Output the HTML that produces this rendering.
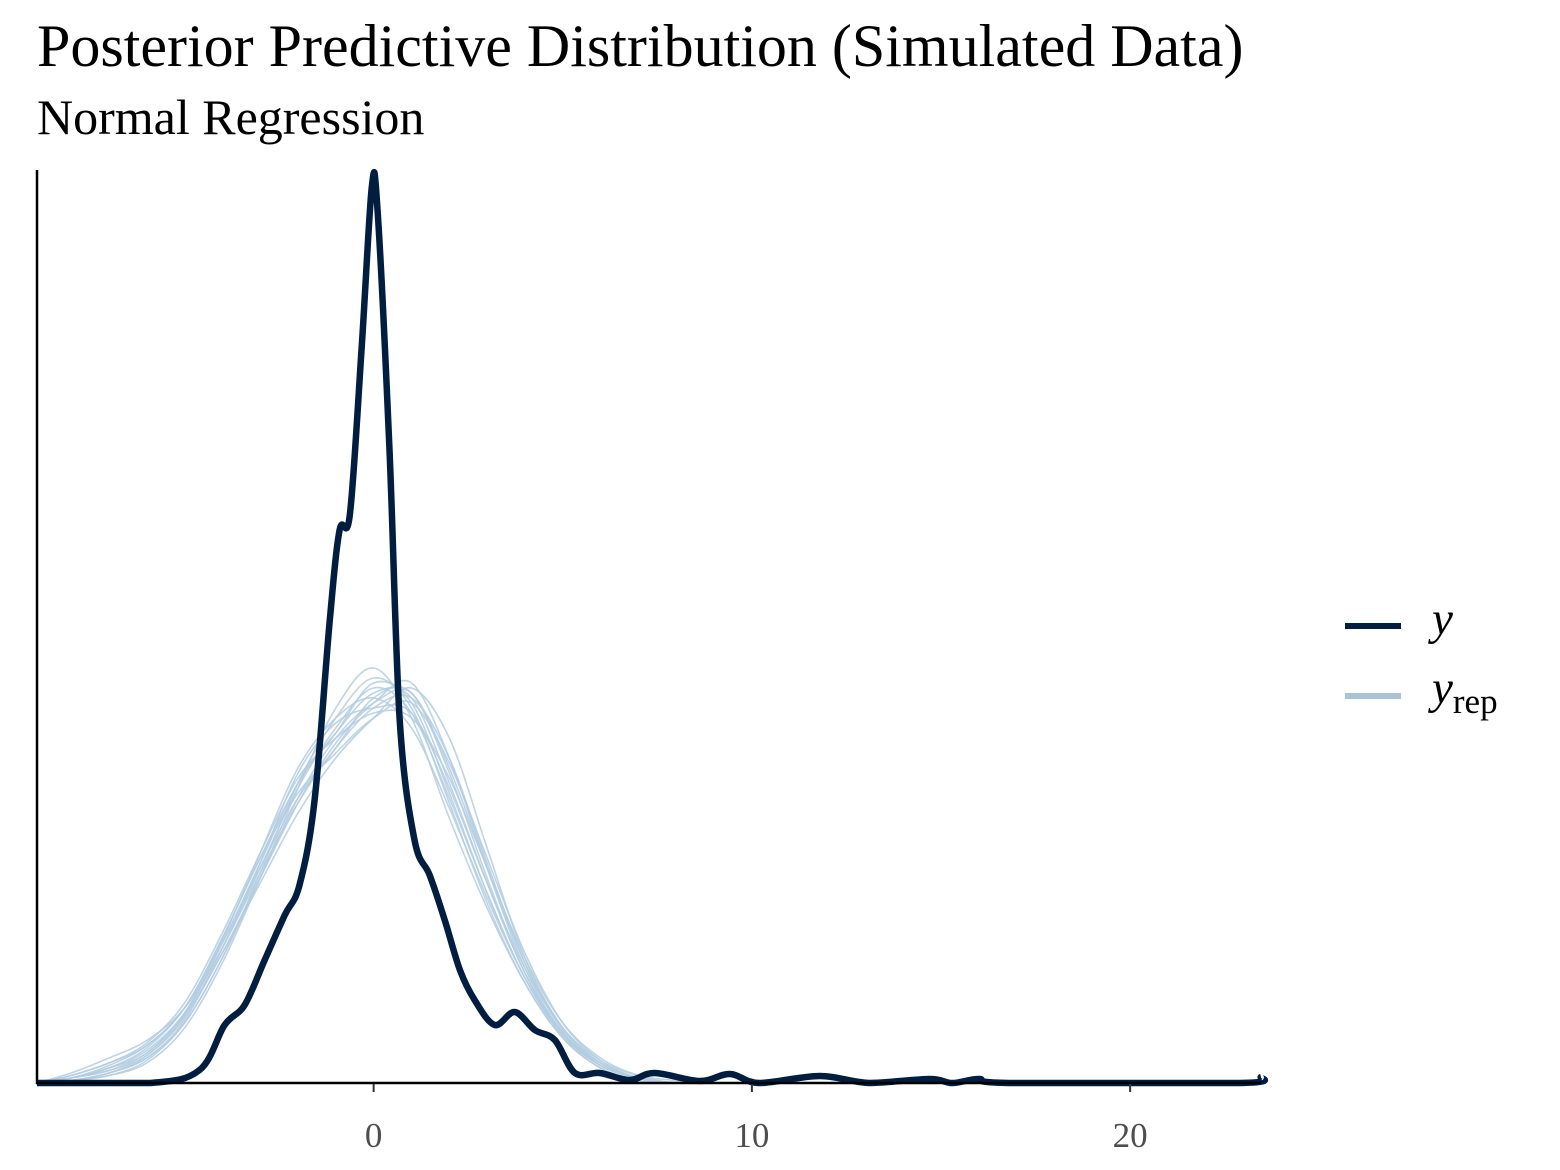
<!DOCTYPE html>
<html><head><meta charset="utf-8"><style>
html,body{margin:0;padding:0;background:#fff;}
svg{display:block;font-family:"Liberation Serif",serif;}
</style></head><body>
<svg id="chart" width="1560" height="1170" viewBox="0 0 1560 1170">
<text x="37" y="66" font-size="60" fill="#000">Posterior Predictive Distribution (Simulated Data)</text>
<text x="37" y="134" font-size="50" fill="#000">Normal Regression</text>
<g id="yrep-layer"></g>
<g id="y-layer"></g>
<line x1="37" y1="170" x2="37" y2="1084" stroke="#000" stroke-width="2.5"/>
<line x1="36" y1="1083" x2="1261" y2="1083" stroke="#000" stroke-width="2.5"/>
<g id="ticks"></g>
<g>
<line x1="1345" y1="626" x2="1401" y2="626" stroke="#011e41" stroke-width="6"/>
<text x="1432" y="634" font-size="47" font-style="italic">y</text>
<line x1="1345" y1="696" x2="1401" y2="696" stroke="#a9c2d8" stroke-width="6"/>
<text x="1432" y="703" font-size="47" font-style="italic">y<tspan font-style="normal" font-size="35" dy="10">rep</tspan></text>
</g>
</svg>
<script>
const yX=[-8.9,-5.9,-4.6,-3.94,-3.41,-2.88,-2.35,-1.96,-1.56,-1.16,-0.9,-0.63,-0.32,-0.05,0.1,0.42,0.69,1.08,1.48,1.88,2.28,2.67,3.2,3.73,4.26,4.79,5.32,5.98,6.77,7.43,8.62,9.42,10.2,11.8,13.1,14.7,15.3,16.0,16.8,22.9,23.46];
const yDensity=[0,0,0.0052,0.0232,0.0312,0.0492,0.0672,0.0792,0.1132,0.1852,0.2212,0.2272,0.2932,0.358,0.35,0.2532,0.1452,0.0972,0.0832,0.0652,0.0452,0.0332,0.0232,0.0284,0.0212,0.0172,0.004,0.004,0.0012,0.004,0.0008,0.0036,0,0.0028,0,0.0016,0,0.0016,0,0,0.0024];
const repGrid=[-8.9,-8,-7,-6,-5,-4,-3,-2,-1,0,1,2,3,4,5,6,7,8,9];
const yrepDensities=[
[0,0.002,0.006,0.012,0.028,0.056,0.088,0.12,0.14,0.156,0.154,0.12,0.08,0.044,0.02,0.008,0.002,0,0],
[0,0.001,0.004,0.01,0.024,0.05,0.084,0.12,0.146,0.162,0.15,0.112,0.072,0.04,0.018,0.006,0.001,0,0],
[0,0.003,0.008,0.016,0.032,0.06,0.092,0.122,0.138,0.148,0.146,0.122,0.086,0.05,0.024,0.01,0.003,0,0],
[0,0.002,0.005,0.011,0.026,0.052,0.082,0.112,0.136,0.152,0.16,0.13,0.086,0.046,0.02,0.007,0.002,0,0],
[0,0.001,0.003,0.008,0.022,0.048,0.082,0.118,0.15,0.166,0.146,0.106,0.07,0.04,0.018,0.006,0.001,0,0],
[0,0.002,0.006,0.014,0.03,0.058,0.09,0.116,0.132,0.146,0.152,0.128,0.09,0.052,0.024,0.009,0.002,0,0],
[0,0.004,0.01,0.017,0.03,0.054,0.086,0.118,0.142,0.158,0.148,0.114,0.076,0.042,0.019,0.007,0.002,0,0],
[0,0.001,0.004,0.01,0.025,0.054,0.088,0.124,0.144,0.15,0.148,0.118,0.08,0.046,0.022,0.009,0.003,0.001,0],
[0,0.002,0.005,0.012,0.027,0.052,0.08,0.108,0.13,0.146,0.158,0.138,0.094,0.05,0.022,0.008,0.002,0,0],
[0,0.002,0.007,0.015,0.03,0.056,0.086,0.114,0.134,0.154,0.156,0.124,0.082,0.044,0.02,0.007,0.002,0,0],
[0,0.001,0.004,0.011,0.027,0.057,0.092,0.126,0.146,0.154,0.142,0.11,0.074,0.042,0.02,0.008,0.002,0,0],
[0,0.002,0.006,0.013,0.028,0.054,0.084,0.112,0.134,0.15,0.154,0.13,0.088,0.048,0.021,0.007,0.002,0,0],
[0,0.003,0.008,0.015,0.03,0.058,0.09,0.12,0.14,0.16,0.152,0.116,0.076,0.042,0.019,0.007,0.002,0,0],
[0,0.001,0.003,0.009,0.024,0.05,0.082,0.114,0.138,0.152,0.156,0.126,0.086,0.048,0.022,0.008,0.002,0,0]
];
const tickValues=[0,10,20];
const tickLabels=["0","10","20"];
const NS="http://www.w3.org/2000/svg";
const xMin=-8.9,xMax=23.46,px0=37,px1=1261,yTop=170,yBase=1083,dMax=0.3652;
function sx(v){return px0+(v-xMin)/(xMax-xMin)*(px1-px0);}
function sy(v){return yBase-v/dMax*(yBase-yTop);}
function pathFrom(xs,ys){
  const p=xs.map((x,i)=>[sx(x),sy(ys[i])]);
  let d="M"+p[0][0].toFixed(1)+","+p[0][1].toFixed(1);
  for(let i=0;i<p.length-1;i++){
    const a=p[Math.max(0,i-1)],b=p[i],c=p[i+1],e=p[Math.min(p.length-1,i+2)];
    const c1=[b[0]+(c[0]-a[0])/6,b[1]+(c[1]-a[1])/6],c2=[c[0]-(e[0]-b[0])/6,c[1]-(e[1]-b[1])/6];
    d+="C"+c1[0].toFixed(1)+","+Math.min(yBase,c1[1]).toFixed(1)+" "+c2[0].toFixed(1)+","+Math.min(yBase,c2[1]).toFixed(1)+" "+c[0].toFixed(1)+","+c[1].toFixed(1);
  }
  return d;
}
const rl=document.getElementById('yrep-layer');
yrepDensities.forEach((ys,k)=>{
  const p=document.createElementNS(NS,'path');
  p.setAttribute('d',pathFrom(repGrid,ys));
  p.setAttribute('fill','none');p.setAttribute('stroke','#b3cde0');p.setAttribute('stroke-width','1.6');p.setAttribute('opacity','0.85');
  
  
  rl.appendChild(p);
});
const yl=document.getElementById('y-layer');
const yp=document.createElementNS(NS,'path');
yp.setAttribute('d',pathFrom(yX,yDensity));
yp.setAttribute('fill','none');yp.setAttribute('stroke','#011e41');yp.setAttribute('stroke-width','6.5');yp.setAttribute('stroke-linejoin','round');


yl.appendChild(yp);
const tg=document.getElementById('ticks');
tickValues.forEach((v,i)=>{
  const l=document.createElementNS(NS,'line');
  l.setAttribute('x1',sx(v));l.setAttribute('x2',sx(v));l.setAttribute('y1',1084);l.setAttribute('y2',1092);
  l.setAttribute('stroke','#333');l.setAttribute('stroke-width','2');
  
  
  tg.appendChild(l);
  const t=document.createElementNS(NS,'text');
  t.setAttribute('x',sx(v));t.setAttribute('y',1147);t.setAttribute('text-anchor','middle');
  t.setAttribute('font-size','35');t.setAttribute('fill','#4d4d4d');
  t.textContent=tickLabels[i];
  
  
  tg.appendChild(t);
});
</script>
</body></html>
